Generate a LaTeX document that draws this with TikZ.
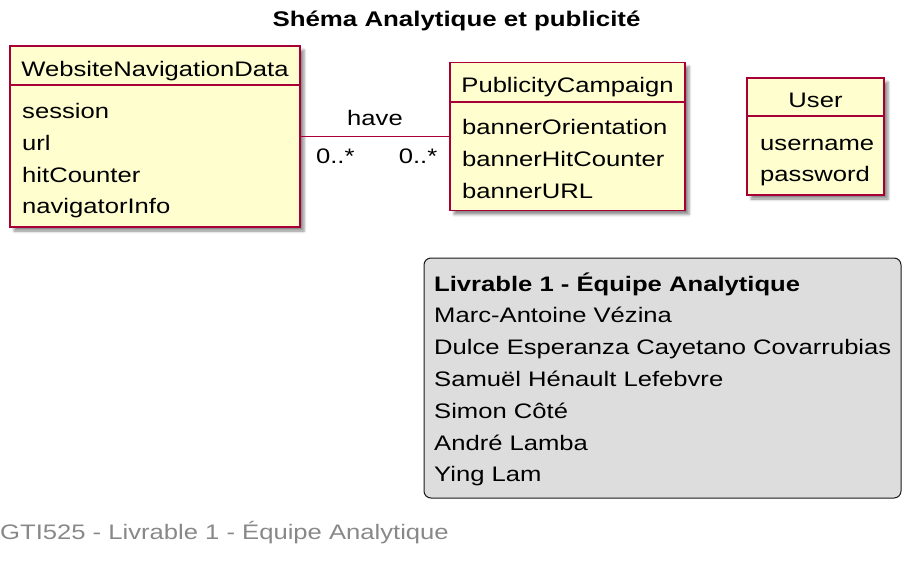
\documentclass[tikz,border=0pt]{standalone}
\usepackage{fontspec}
\setmainfont{Liberation Sans}[FakeStretch=1.22]
\usetikzlibrary{shadows.blur}

\definecolor{umlfill}{HTML}{FEFECE}
\definecolor{umlred}{HTML}{A80036}
\definecolor{legendfill}{HTML}{DDDDDD}
\definecolor{footgray}{HTML}{888888}

\tikzset{
  classbox/.style={rectangle, draw=umlred, fill=umlfill, line width=1.5pt, inner sep=0pt,
    blur shadow={shadow xshift=4pt, shadow yshift=-4pt, shadow blur radius=2.5pt, shadow opacity=45}},
  sepline/.style={draw=umlred, line width=1.5pt},
  assoc/.style={draw=umlred, line width=1pt},
  umltext/.style={inner sep=0pt, font=\fontsize{21}{24}\selectfont},
  member/.style={umltext, anchor=base west},
  classname/.style={umltext, anchor=base},
  legendbox/.style={rectangle, rounded corners=7pt, draw=black!90, fill=legendfill, line width=1pt}
}

\begin{document}
\begin{tikzpicture}[x=1pt, y=-1pt]
\useasboundingbox (0,0) rectangle (918,563);

% title
\node[umltext, anchor=base, font=\fontsize{21.2}{24}\selectfont\bfseries] (title) at (456.5,26) {Shéma Analytique et publicité};

% classes
\node[classbox, minimum width=290pt, minimum height=181pt] (wnd) at (155,136.5) {};
\draw[sepline] (wnd.west |- 0,85) -- (wnd.east |- 0,85);
\node[classname] (wndName) at (155,76) {WebsiteNavigationData};
\node[member] (wndSession) at (22,118) {session};
\node[member] (wndUrl) at (22,150) {url};
\node[member] (wndHit) at (22,182) {hitCounter};
\node[member] (wndNav) at (22,213) {navigatorInfo};

\node[classbox, minimum width=235pt, minimum height=148pt] (pc) at (567.5,136.5) {};
\draw[sepline] (pc.west |- 0,102) -- (pc.east |- 0,102);
\node[classname] (pcName) at (567.5,92) {PublicityCampaign};
\node[member] (pcOrient) at (462,134) {bannerOrientation};
\node[member] (pcHit) at (462,166) {bannerHitCounter};
\node[member] (pcUrl) at (462,198) {bannerURL};

\node[classbox, minimum width=137pt, minimum height=117pt] (user) at (815.5,136.5) {};
\draw[sepline] (user.west |- 0,116) -- (user.east |- 0,116);
\node[classname] (userName) at (815.5,107) {User};
\node[member] (userLogin) at (760,150) {username};
\node[member] (userPass) at (760,181) {password};

% association
\draw[assoc] (wnd.east) -- node[classname, yshift=11pt] (have) {have}
  node[classname, pos=0.233, yshift=-27pt] (multA) {0..*}
  node[classname, pos=0.79, yshift=-27pt] (multB) {0..*} (pc.west);

% legend
\node[legendbox, minimum width=477pt, minimum height=240pt] (legend) at (662.5,378) {};
\node[member, font=\fontsize{21}{24}\selectfont\bfseries] (legendHead) at (434,291) {Livrable 1 - Équipe Analytique};
\foreach \who [count=\i] in {Marc-Antoine Vézina, Dulce Esperanza Cayetano Covarrubias,
    Samuël Hénault Lefebvre, Simon Côté, André Lamba, Ying Lam}
  \node[member] (member\i) at (434,291+31.8*\i) {\who};

% footer
\node[member, text=footgray] (footer) at (0,539) {GTI525 - Livrable 1 - Équipe Analytique};
\end{tikzpicture}
\end{document}
